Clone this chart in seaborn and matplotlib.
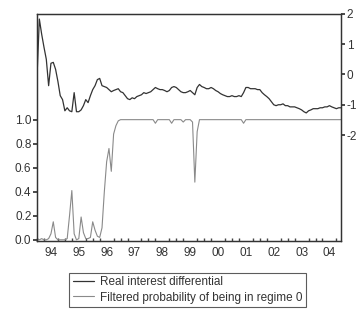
import numpy as np
import matplotlib
matplotlib.use("Agg")
import matplotlib.pyplot as plt
import pandas as pd
import seaborn as sns

sns.set_theme(style="white")
plt.rcParams['font.family'] = ['Liberation Sans', 'DejaVu Sans']

# monthly observations, 1994M01 - 2004M12
real_diff = [
    -0.07, 1.83, 1.33, 0.90, 0.50, -0.37, 0.37, 0.40, 0.17, -0.23, -0.70, -0.83,
    -1.20, -1.10, -1.20, -1.23, -0.60, -1.23, -1.23, -1.17, -1.03, -0.83, -0.93, -0.70,
    -0.50, -0.37, -0.17, -0.13, -0.37, -0.40, -0.43, -0.50, -0.57, -0.53, -0.50, -0.47,
    -0.57, -0.60, -0.70, -0.80, -0.83, -0.77, -0.80, -0.73, -0.70, -0.67, -0.60, -0.63,
    -0.60, -0.57, -0.50, -0.43, -0.47, -0.50, -0.50, -0.53, -0.57, -0.53, -0.43, -0.40,
    -0.43, -0.50, -0.57, -0.60, -0.60, -0.57, -0.53, -0.60, -0.67, -0.43, -0.33, -0.40,
    -0.43, -0.47, -0.47, -0.43, -0.47, -0.53, -0.57, -0.63, -0.67, -0.70, -0.73, -0.73,
    -0.70, -0.73, -0.73, -0.70, -0.73, -0.60, -0.43, -0.43, -0.47, -0.47, -0.47, -0.50,
    -0.50, -0.60, -0.67, -0.73, -0.80, -0.90, -1.00, -1.03, -1.00, -1.00, -0.97, -1.03,
    -1.03, -1.07, -1.07, -1.07, -1.10, -1.13, -1.17, -1.23, -1.27, -1.20, -1.17, -1.13,
    -1.13, -1.13, -1.10, -1.10, -1.07, -1.07, -1.03, -1.07, -1.10, -1.13, -1.10, -1.10,
]

prob_regime0 = [
    0.01, 0.00, 0.01, 0.00, 0.00, 0.01, 0.05, 0.15, 0.02, 0.00, 0.00, 0.00,
    0.00, 0.01, 0.20, 0.41, 0.05, 0.00, 0.01, 0.19, 0.06, 0.01, 0.01, 0.02,
    0.15, 0.08, 0.03, 0.02, 0.10, 0.40, 0.65, 0.76, 0.57, 0.88, 0.95, 0.99,
    1.00, 1.00, 1.00, 1.00, 1.00, 1.00, 1.00, 1.00, 1.00, 1.00, 1.00, 1.00,
    1.00, 1.00, 1.00, 0.97, 1.00, 1.00, 1.00, 1.00, 1.00, 1.00, 0.97, 1.00,
    1.00, 1.00, 1.00, 0.98, 1.00, 1.00, 1.00, 0.98, 0.48, 0.90, 1.00, 1.00,
    1.00, 1.00, 1.00, 1.00, 1.00, 1.00, 1.00, 1.00, 1.00, 1.00, 1.00, 1.00,
    1.00, 1.00, 1.00, 1.00, 1.00, 0.97, 1.00, 1.00, 1.00, 1.00, 1.00, 1.00,
    1.00, 1.00, 1.00, 1.00, 1.00, 1.00, 1.00, 1.00, 1.00, 1.00, 1.00, 1.00,
    1.00, 1.00, 1.00, 1.00, 1.00, 1.00, 1.00, 1.00, 1.00, 1.00, 1.00, 1.00,
    1.00, 1.00, 1.00, 1.00, 1.00, 1.00, 1.00, 1.00, 1.00, 1.00, 1.00, 1.00,
]

year_labels = ['94', '95', '96', '97', '98', '99', '00', '01', '02', '03', '04']

t = 1994 + np.arange(len(real_diff)) / 12.0
df = pd.DataFrame({'t': t, 'diff': real_diff, 'prob': prob_regime0})

fig = plt.figure(figsize=(3.56, 3.09), dpi=100)
ax = fig.add_axes([0.104, 0.22, 0.854, 0.735])
ax2 = ax.twinx()

sns.lineplot(data=df, x='t', y='prob', ax=ax, color='#8a8a8a', linewidth=0.8,
             label='Filtered probability of being in regime 0', legend=False)
sns.lineplot(data=df, x='t', y='diff', ax=ax2, color='#333333', linewidth=0.9,
             label='Real interest differential', legend=False)

ax.set_xlim(1994, t[-1])
ax.set_ylim(-0.01, 1.88)
ax2.set_ylim(-5.5, 2.0)

ax.set_yticks([0.0, 0.2, 0.4, 0.6, 0.8, 1.0])
ax.set_yticklabels(['0.0', '0.2', '0.4', '0.6', '0.8', '1.0'])
ax2.set_yticks([-2, -1, 0, 1, 2])
ax2.set_yticklabels(['-2', '-1', '0', '1', '2'])

mid = 1994.5 + np.arange(len(year_labels))
ax.set_xticks(mid)
ax.set_xticklabels(year_labels)
ax.set_xticks(1994 + np.arange(0, 11, 0.25), minor=True)

ax.tick_params(axis='x', which='major', length=0, labelsize=8.5, pad=4, colors='#333333')
ax.tick_params(axis='x', which='minor', length=2, direction='in', color='#444444', bottom=True)
ax.tick_params(axis='y', length=3, direction='out', labelsize=8.5, pad=1, colors='#333333', left=True)
ax2.tick_params(axis='y', length=3, direction='out', labelsize=8.5, pad=1, colors='#333333', right=True)

ax.set_xlabel('')
ax.set_ylabel('')
ax2.set_ylabel('')

for a in (ax, ax2):
    for s in a.spines.values():
        s.set_color('#333333')
        s.set_linewidth(0.9)

h1, l1 = ax2.get_legend_handles_labels()
h2, l2 = ax.get_legend_handles_labels()
leg = fig.legend(h1 + h2, l1 + l2, loc='upper center', bbox_to_anchor=(0.527, 0.118),
                 fontsize=8.5, frameon=True, fancybox=False, handlelength=1.8,
                 labelspacing=0.3, borderpad=0.3, handletextpad=0.5,
                 borderaxespad=0)
leg.get_frame().set_edgecolor('#333333')
leg.get_frame().set_linewidth(0.8)
for txt in leg.get_texts():
    txt.set_color('#333333')

plt.savefig('out.png', dpi=100)
